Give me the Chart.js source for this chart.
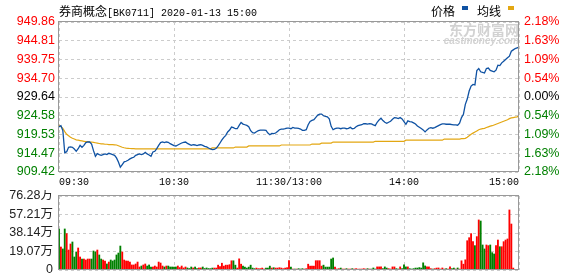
<!DOCTYPE html>
<html>
<head>
<meta charset="utf-8">
<script src="https://cdn.jsdelivr.net/npm/chart.js@4.4.1/dist/chart.umd.min.js"></script>
<style>
  html, body { margin: 0; padding: 0; background: #fff; }
  #wrap { position: relative; width: 578px; height: 276px; overflow: hidden; }
  #top { position: absolute; left: 0; top: 0; }
  #vol { position: absolute; left: 0; top: 190px; }
  .txt { position: absolute; white-space: nowrap; color: #000; line-height: 14px; }
  .cjk { font: 12px "Noto Sans CJK SC"; }
  .mono { font: 10px "Liberation Mono"; }
  .mark { position: absolute; width: 6px; height: 4px; }
</style>
</head>
<body>
<div id="wrap">
  <canvas id="top" width="578" height="190"></canvas>
  <canvas id="vol" width="578" height="86"></canvas>
  <div class="txt" style="left:59px; top:2px;"><span class="cjk">券商概念</span><span class="mono">[BK0711] 2020-01-13 15:00</span></div>
  <div class="txt cjk" style="left:431px; top:2px;">价格</div>
  <div class="mark" style="left:462px; top:6px; background:#0f52a3;"></div>
  <div class="txt cjk" style="left:477px; top:2px;">均线</div>
  <div class="mark" style="left:508px; top:6px; background:#e3a712;"></div>
</div>
<script>
// 券商概念 BK0711, 2020-01-13, one value per minute (09:30 .. 11:30 / 13:01 .. 15:00)
const prevClose = 929.64;
const xTickMinutes = [0, 60, 120, 180, 240];
const xTickLabels = ['09:30', '10:30', '11:30/13:00', '14:00', '15:00'];
const priceTicks = [909.42, 914.47, 919.53, 924.58, 929.64, 934.70, 939.75, 944.81, 949.86];
const pctTickLabels = ['2.18%', '1.63%', '1.09%', '0.54%', '0.00%', '0.54%', '1.09%', '1.63%', '2.18%'];
const volTicks = [0, 19.07, 38.14, 57.21, 76.28];
const volTickLabels = ['0', '19.07万', '38.14万', '57.21万', '76.28万'];

const price = [
  921.60, 921.90, 920.60, 914.60, 914.90, 916.08, 916.17, 916.08, 915.63, 915.00,
  915.70, 916.60, 916.08, 916.60, 917.33, 917.51, 917.51, 916.97, 915.18, 913.66,
  914.38, 914.11, 913.93, 914.11, 914.29, 914.11, 914.47, 914.29, 914.11, 913.93,
  913.22, 912.14, 910.71, 911.42, 912.14, 912.32, 912.59, 912.95, 913.22, 913.39,
  913.93, 914.11, 914.29, 914.11, 914.29, 914.74, 914.29, 914.02, 913.66, 914.82,
  915.00, 915.72, 916.60, 917.33, 917.51, 917.33, 917.51, 917.42, 917.06, 916.79,
  916.53, 916.44, 916.71, 916.97, 917.24, 917.42, 917.51, 917.15, 916.88, 916.60,
  916.80, 916.70, 916.53, 916.70, 916.80, 916.60, 916.35, 916.17, 915.90, 915.63,
  915.45, 915.50, 915.81, 916.44, 917.24, 918.05, 918.76, 919.30, 920.20, 920.73,
  921.54, 921.36, 921.09, 921.09, 921.98, 922.79, 922.34, 922.16, 921.98, 921.63,
  920.55, 920.02, 919.93, 920.28, 920.55, 920.73, 920.73, 920.73, 920.64, 919.93,
  919.48, 919.84, 919.75, 919.93, 920.37, 920.82, 921.00, 921.00, 921.09, 921.27,
  921.27, 921.09, 921.45, 921.27, 921.27, 921.18, 921.00, 920.64, 920.64, 920.82,
  922.16, 923.06, 923.33, 923.51, 924.13, 924.76, 925.03, 925.03, 924.58, 924.40,
  924.31, 923.77, 921.72, 920.82, 921.09, 921.27, 921.27, 921.09, 921.27, 921.27,
  921.09, 921.18, 921.45, 921.09, 921.18, 921.63, 921.90, 922.07, 922.16, 922.43,
  922.43, 922.34, 922.47, 922.38, 922.11, 921.93, 922.83, 923.46, 923.90, 923.28,
  922.83, 922.56, 922.83, 923.10, 923.63, 924.08, 923.99, 923.81, 924.08, 923.72,
  923.00, 922.29, 923.19, 923.00, 922.92, 922.65, 922.38, 921.84, 921.48, 921.13,
  920.77, 920.23, 920.77, 921.22, 921.40, 921.22, 921.40, 921.66, 921.93, 922.20,
  922.38, 922.38, 922.29, 922.29, 922.29, 922.20, 922.11, 922.11, 922.02, 922.56,
  924.08, 924.98, 927.66, 929.09, 931.24, 932.58, 933.03, 932.90, 936.79, 937.33,
  936.43, 936.25, 936.10, 937.33, 937.45, 936.79, 936.61, 936.43, 936.88, 938.22,
  938.10, 938.85, 939.30, 939.75, 940.19, 940.64, 941.98, 942.34, 942.70, 942.88,
  943.06
];

const avgPrice = [
  922.0, 921.7, 921.2, 920.3, 919.6, 919.2, 918.8, 918.5, 918.3, 918.1,
  918.0, 917.9, 917.8, 917.7, 917.6, 917.6, 917.5, 917.5, 917.4, 917.3,
  917.2, 917.1, 917.0, 917.0, 916.9, 916.9, 916.8, 916.8, 916.8, 916.75,
  916.7, 916.5, 916.3, 916.1, 915.95, 915.85, 915.8, 915.75, 915.7, 915.7,
  915.65, 915.65, 915.65, 915.65, 915.65, 915.65, 915.65, 915.65, 915.65, 915.65,
  915.65, 915.65, 915.65, 915.65, 915.65, 915.65, 915.65, 915.65, 915.65, 915.65,
  915.65, 915.65, 915.65, 915.65, 915.65, 915.65, 915.65, 915.65, 915.65, 915.65,
  915.65, 915.65, 915.65, 915.65, 915.65, 915.65, 915.65, 915.65, 915.65, 915.65,
  915.9, 915.9, 915.9, 915.9, 915.9, 915.9, 915.9, 915.9, 915.9, 915.9,
  915.9, 915.9, 916.15, 916.15, 916.15, 916.15, 916.15, 916.15, 916.15, 916.45,
  916.45, 916.45, 916.45, 916.45, 916.45, 916.45, 916.45, 916.45, 916.45, 916.45,
  916.45, 916.45, 916.45, 916.45, 916.45, 916.45, 916.7, 916.7, 916.7, 916.7,
  916.7, 916.7, 916.7, 916.7, 916.7, 916.7, 916.7, 916.7, 916.7, 916.7,
  916.7, 916.7, 916.95, 916.95, 916.95, 916.95, 916.95, 917.2, 917.2, 917.2,
  917.2, 917.2, 917.2, 917.5, 917.5, 917.5, 917.5, 917.5, 917.5, 917.5,
  917.5, 917.5, 917.5, 917.5, 917.5, 917.5, 917.5, 917.5, 917.5, 917.5,
  917.5, 917.5, 917.5, 917.5, 917.5, 917.7, 917.7, 917.7, 917.7, 917.7,
  917.7, 917.7, 917.7, 917.7, 917.7, 917.7, 917.7, 917.7, 917.7, 917.7,
  917.7, 918.0, 918.0, 918.0, 918.0, 918.0, 918.0, 918.0, 918.0, 918.0,
  918.0, 918.0, 918.0, 918.0, 918.0, 918.0, 918.0, 918.0, 918.0, 918.0,
  918.0, 918.3, 918.3, 918.3, 918.3, 918.3, 918.3, 918.3, 918.3, 918.3,
  918.4, 918.4, 918.5, 918.8, 919.2, 919.6, 919.9, 920.2, 920.5, 920.8,
  921.0, 921.1, 921.2, 921.4, 921.6, 921.8, 921.9, 922.1, 922.3, 922.5,
  922.7, 922.9, 923.1, 923.3, 923.5, 923.8, 924.0, 924.1, 924.2, 924.3,
  924.6
];

// 成交量, 万
const volume = [
  42.3, 23.7, 21.7, 42.3, 37.5, 20.6, 26.8, 28.9, 13.4, 18.6,
  22.7, 13.4, 11.3, 11.3, 10.3, 11.3, 11.3, 11.3, 19.6, 18.6,
  20.6, 15.5, 11.3, 10.3, 9.3, 6.2, 8.2, 10.3, 9.3, 10.3,
  15.5, 17.5, 24.7, 18.6, 10.3, 9.3, 9.3, 8.2, 5.2, 5.2,
  6.2, 8.2, 3.1, 4.1, 5.2, 6.2, 4.1, 5.2, 3.1, 3.1,
  4.1, 3.1, 8.2, 7.2, 4.1, 3.1, 4.1, 4.1, 3.1, 3.1,
  3.1, 3.1, 4.1, 2.5, 4.1, 2.1, 3.1, 2.1, 1.5, 3.1,
  2.1, 3.1, 1.5, 2.1, 2.1, 3.1, 1.5, 2.1, 1.5, 1.4,
  2.0, 2.0, 2.0, 5.0, 3.5, 7.0, 4.0, 5.0, 5.0, 5.5,
  9.5, 9.5, 5.0, 2.0, 11.5, 6.0, 4.0, 3.0, 2.0, 3.0,
  5.0, 2.0, 1.4, 2.0, 1.4, 1.4, 2.0, 1.0, 2.0, 2.0,
  4.0, 2.0, 2.4, 2.0, 2.0, 2.4, 2.0, 1.4, 2.0, 2.4,
  9.6, 3.0, 1.0, 1.0, 1.0, 1.4, 1.0, 1.4, 1.0, 1.4,
  6.0, 4.0, 4.0, 4.0, 9.6, 9.6, 9.6, 4.0, 5.0, 3.0,
  3.0, 3.0, 11.3, 12.4, 3.0, 1.0, 1.4, 2.0, 1.0, 1.0,
  1.4, 1.0, 1.0, 1.4, 1.0, 1.4, 1.0, 1.0, 1.0, 1.4,
  1.0, 1.4, 1.0, 1.0, 2.1, 1.0, 3.2, 3.2, 3.2, 1.4,
  3.2, 2.0, 1.4, 1.0, 3.2, 3.2, 1.4, 1.0, 3.2, 1.4,
  5.3, 3.2, 3.2, 1.4, 1.0, 1.4, 2.0, 2.0, 2.5, 2.0,
  7.4, 4.2, 3.2, 3.2, 1.4, 1.0, 1.4, 2.0, 2.1, 1.0,
  2.1, 1.0, 1.4, 1.0, 3.2, 1.4, 2.0, 1.0, 2.1, 1.0,
  9.5, 6.0, 10.5, 30.2, 33.3, 37.5, 29.2, 25.1, 34.4, 51.6,
  50.5, 25.8, 21.7, 25.8, 25.1, 25.8, 17.9, 16.5, 25.1, 30.9,
  24.0, 24.0, 29.2, 30.9, 32.0, 61.9, 47.4, 2.0, 0, 0,
  70.0
];

const RED = '#ff0000';
const GREEN = '#008000';
const BLUE = '#0f52a3';
const GOLD = '#e3a712';
const GRID = '#cccccc';
const FRAME = '#999999';

function levelColor(v) {
  if (Math.abs(v - prevClose) < 0.005) return '#000';
  return v > prevClose ? RED : GREEN;
}

// y axes: fixed width, and no extra room asked for half labels at the ends
function fitY(s) {
  s.width = 59;
  s.paddingTop = 0;
  s.paddingBottom = 0;
}

// plot frame drawn on top of everything
const frame = {
  id: 'frame',
  afterDraw(chart) {
    const { ctx, chartArea: a } = chart;
    ctx.save();
    ctx.strokeStyle = FRAME;
    ctx.lineWidth = 1;
    ctx.strokeRect(Math.round(a.left) - 0.5, Math.round(a.top) - 0.5,
      Math.round(a.right - a.left), Math.round(a.bottom - a.top));
    ctx.restore();
  }
};

const watermark = {
  id: 'watermark',
  beforeDatasetsDraw(chart) {
    const { ctx, chartArea: a } = chart;
    ctx.save();
    ctx.fillStyle = '#d2d2d2';
    ctx.textAlign = 'right';
    ctx.textBaseline = 'middle';
    ctx.font = 'bold 14px "Noto Sans CJK SC"';
    ctx.fillText('东方财富网', a.right, a.top + 8);
    ctx.font = 'italic bold 10px "Liberation Sans"';
    ctx.fillText('eastmoney.com', a.right, a.top + 19);
    ctx.restore();
  }
};

const yFont = { family: '"Liberation Sans", "Noto Sans CJK SC"', size: 12.5 };

new Chart(document.getElementById('top'), {
  type: 'line',
  data: {
    datasets: [
      { label: '价格', data: price.map((p, i) => ({ x: i, y: p })),
        borderColor: BLUE, borderWidth: 1.3, pointRadius: 0, tension: 0, yAxisID: 'y' },
      { label: '均线', data: avgPrice.map((p, i) => ({ x: i, y: p })),
        borderColor: GOLD, borderWidth: 1.2, pointRadius: 0, tension: 0, yAxisID: 'y' }
    ]
  },
  options: {
    responsive: false,
    animation: false,
    events: [],
    layout: { padding: { top: 22, left: 0, right: 0, bottom: 0 } },
    plugins: { legend: { display: false }, tooltip: { enabled: false } },
    scales: {
      x: {
        type: 'linear', min: 0, max: 240, offset: false,
        afterBuildTicks: s => { s.ticks = xTickMinutes.map(v => ({ value: v })); },
        afterFit: s => { s.height = 18; s.paddingLeft = 0; s.paddingRight = 0; },
        ticks: {
          autoSkip: false, maxRotation: 0, align: 'inner', padding: 4, color: '#000',
          font: { family: '"Liberation Mono"', size: 10 },
          callback: v => xTickLabels[xTickMinutes.indexOf(v)]
        },
        grid: { color: GRID, drawTicks: false },
        border: { display: false, dash: [3, 3] }
      },
      y: {
        position: 'left', min: priceTicks[0], max: priceTicks[priceTicks.length - 1],
        afterBuildTicks: s => { s.ticks = priceTicks.map(v => ({ value: v })); },
        afterFit: fitY,
        ticks: {
          autoSkip: false, padding: 4, font: yFont,
          color: c => levelColor(c.tick.value),
          callback: v => v.toFixed(2)
        },
        grid: { color: GRID, drawTicks: false },
        border: { display: false, dash: [3, 3] }
      },
      y1: {
        position: 'right', min: priceTicks[0], max: priceTicks[priceTicks.length - 1],
        afterBuildTicks: s => { s.ticks = priceTicks.map(v => ({ value: v })); },
        afterFit: fitY,
        ticks: {
          autoSkip: false, padding: 5, font: yFont,
          color: c => levelColor(c.tick.value),
          callback: (v, i) => pctTickLabels[i]
        },
        grid: { display: false, drawTicks: false },
        border: { display: false }
      }
    }
  },
  plugins: [watermark, frame]
});

const barColors = price.map((p, i) => (p >= (i ? price[i - 1] : prevClose) ? RED : GREEN));

new Chart(document.getElementById('vol'), {
  type: 'bar',
  data: {
    datasets: [{
      label: '成交量',
      data: volume.map((v, i) => ({ x: i, y: v })),
      backgroundColor: barColors,
      barThickness: 1.2
    }]
  },
  options: {
    responsive: false,
    animation: false,
    events: [],
    layout: { padding: { top: 6, left: 0, right: 59, bottom: 0 } },
    plugins: { legend: { display: false }, tooltip: { enabled: false } },
    scales: {
      x: {
        type: 'linear', min: 0, max: 240, offset: false,
        afterBuildTicks: s => { s.ticks = xTickMinutes.map(v => ({ value: v })); },
        afterFit: s => { s.height = 6; s.paddingLeft = 0; s.paddingRight = 0; },
        ticks: { display: false },
        grid: { color: GRID, drawTicks: false, offset: false },
        border: { display: false, dash: [3, 3] }
      },
      y: {
        min: 0, max: volTicks[volTicks.length - 1],
        afterBuildTicks: s => { s.ticks = volTicks.map(v => ({ value: v })); },
        afterFit: fitY,
        ticks: {
          autoSkip: false, padding: 6, font: yFont, color: '#222',
          callback: (v, i) => volTickLabels[i]
        },
        grid: { color: GRID, drawTicks: false },
        border: { display: false, dash: [3, 3] }
      }
    }
  },
  plugins: [frame]
});
</script>
</body>
</html>
